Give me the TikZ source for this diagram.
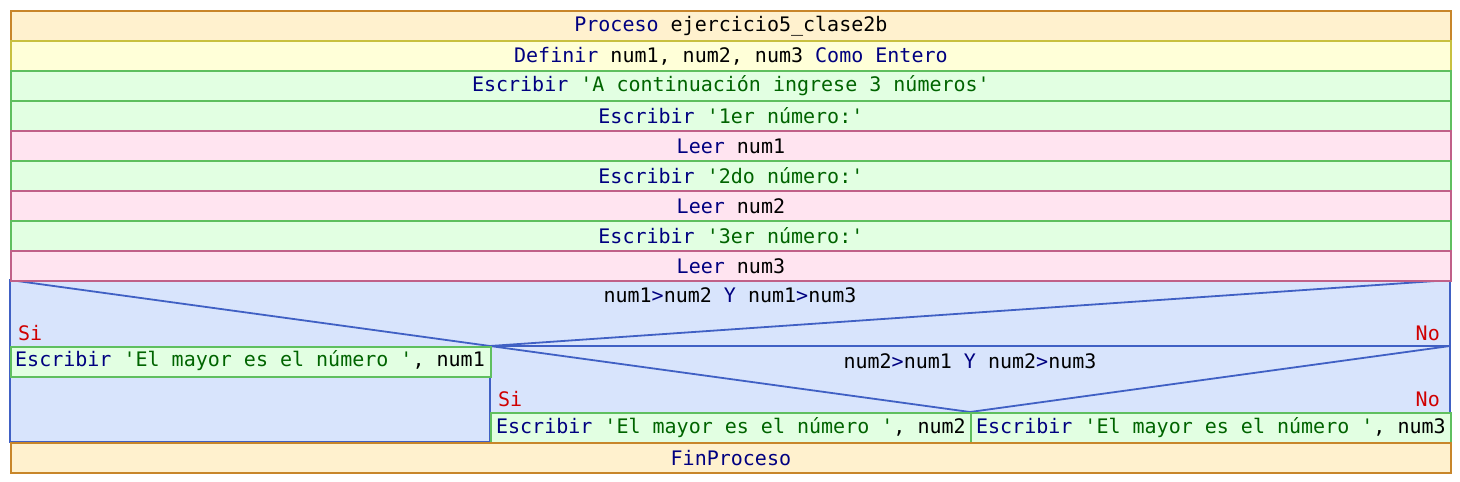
\documentclass[tikz,border=0pt]{standalone}
\usepackage{fontspec}
\setmainfont{DejaVu Sans Mono}[Ligatures=TeXOff]
\definecolor{kwc}{HTML}{000080}
\definecolor{stc}{HTML}{006400}
\definecolor{sino}{HTML}{D00000}
\definecolor{orfill}{HTML}{FFF1CE}
\definecolor{ordraw}{HTML}{C8862A}
\definecolor{yefill}{HTML}{FFFFD8}
\definecolor{yedraw}{HTML}{C8C040}
\definecolor{grfill}{HTML}{E2FFE2}
\definecolor{grdraw}{HTML}{5FBF5F}
\definecolor{pkfill}{HTML}{FFE4F0}
\definecolor{pkdraw}{HTML}{C06088}
\definecolor{blfill}{HTML}{D8E4FC}
\definecolor{bldraw}{HTML}{4060C4}
\newcommand{\kwd}[1]{\textcolor{kwc}{#1}}
\newcommand{\strg}[1]{\textcolor{stc}{#1}}
\newcommand{\qt}{\symbol{39}}
\tikzset{
  txt/.style={font=\fontsize{20}{22}\selectfont, inner sep=0pt},
  rowbox/.style={txt, line width=1.8pt, minimum width=1440pt, minimum height=30pt, anchor=north west},
  halfbox/.style={txt, line width=1.8pt, minimum width=480pt, minimum height=30pt, anchor=north west},
  orrow/.style={fill=orfill, draw=ordraw},
  yerow/.style={fill=yefill, draw=yedraw},
  grrow/.style={fill=grfill, draw=grdraw},
  pkrow/.style={fill=pkfill, draw=pkdraw},
  blline/.style={draw=bldraw, line width=1.8pt},
  sinolbl/.style={txt, text=sino},
}
\begin{document}
\begin{tikzpicture}[x=1pt,y=-1pt]
\useasboundingbox (0,0) rectangle (1460,482);
% condition region
\coordinate (c1tl) at (10,280);
\coordinate (c1tr) at (1450,280);
\coordinate (c1br) at (1450,442);
\coordinate (c1bl) at (10,442);
\coordinate (c1m) at (490,346);
\coordinate (c1r) at (1450,346);
\coordinate (c2m) at (970,412);
\coordinate (c2bot) at (490,442);
\fill[blfill] (c1tl) rectangle (c1br);
\draw[blline] (c1tl) -- (c1m) -- (c1tr);
\draw[blline] (c1m) -- (c1r);
\draw[blline] (c1m) -- (c2m) -- (c1r);
\draw[blline] (c1m) -- (c2bot);
\draw[blline] (c1tl) rectangle (c1br);

\node[rowbox, orrow] (r1) at (10,10) {\kwd{Proceso} ejercicio5\_clase2b};
\node[rowbox, yerow] (r2) at (10,40) {\kwd{Definir} num1, num2, num3 \kwd{Como Entero}};
\node[rowbox, grrow] (r3) at (10,70) {\kwd{Escribir} \strg{\qt A continuación ingrese 3 números\qt}};
\node[rowbox, grrow] (r4) at (10,100) {\kwd{Escribir} \strg{\qt 1er número:\qt}};
\node[rowbox, pkrow] (r5) at (10,130) {\kwd{Leer} num1};
\node[rowbox, grrow] (r6) at (10,160) {\kwd{Escribir} \strg{\qt 2do número:\qt}};
\node[rowbox, pkrow] (r7) at (10,190) {\kwd{Leer} num2};
\node[rowbox, grrow] (r8) at (10,220) {\kwd{Escribir} \strg{\qt 3er número:\qt}};
\node[rowbox, pkrow] (r9) at (10,250) {\kwd{Leer} num3};

\node[txt] (q1) at (730,295) {num1\kwd{>}num2 \kwd{Y} num1\kwd{>}num3};
\node[sinolbl, anchor=base west] (s1) at (18,340) {Si};
\node[sinolbl, anchor=base east] (n1) at (1440,340) {No};
\node[halfbox, grrow] (e1) at (10,346) {};
\node[txt, anchor=west] (e1t) at (15,361) {\kwd{Escribir} \strg{\qt El mayor es el número \qt}, num1};

\node[txt] (q2) at (970,361) {num2\kwd{>}num1 \kwd{Y} num2\kwd{>}num3};
\node[sinolbl, anchor=base west] (s2) at (498,406) {Si};
\node[sinolbl, anchor=base east] (n2) at (1440,406) {No};
\node[halfbox, grrow] (e2) at (490,412) {\kwd{Escribir} \strg{\qt El mayor es el número \qt}, num2};
\node[halfbox, grrow] (e3) at (970,412) {\kwd{Escribir} \strg{\qt El mayor es el número \qt}, num3};

\node[rowbox, orrow] (r10) at (10,442) {\kwd{FinProceso}};
\end{tikzpicture}
\end{document}
